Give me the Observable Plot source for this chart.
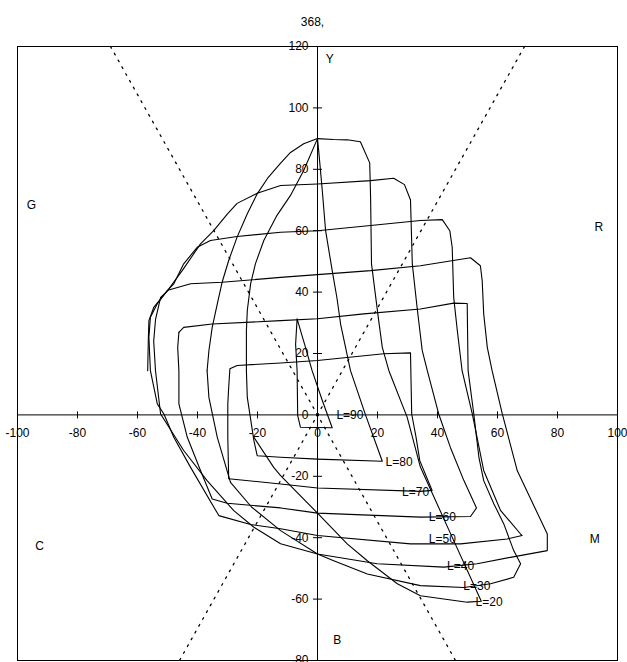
<!DOCTYPE html>
<html>
<head>
<meta charset="utf-8">
<script src="https://cdn.jsdelivr.net/npm/d3@7"></script>
<script src="https://cdn.jsdelivr.net/npm/@observablehq/plot@0.6"></script>
<style>
  html, body { margin: 0; padding: 0; background: #fff; }
  #title { height: 36px; width: 627px; font: 12px "Liberation Sans", Arial, sans-serif; text-align: center; line-height: 12px; box-sizing: border-box; }
  #title span { position: relative; left: -1px; top: 16px; }
  #chart svg { display: block; }
</style>
</head>
<body>
<div id="title"><span>368,</span></div>
<div id="chart"></div>
<script>
// axis ticks and labels
const xTickMarks = [-80, -60, -40, -20, 20, 40, 60, 80];
const xTickLabels = [-100, -80, -60, -40, -20, 0, 20, 40, 60, 80, 100];
const yTickMarks = [-60, -40, -20, 20, 40, 60, 80, 100];
const yTickLabels = [-80, -60, -40, -20, 0, 20, 40, 60, 80, 100, 120];

// dotted reference lines (a*, b*)
const dottedA = [[-69, 120], [46, -80]];
const dottedB = [[69, 120], [-46, -80]];

// corner letters
const letterNames = ["Y", "G", "R", "C", "M", "B"];
const letterA = [4.1, -95.4, 93.8, -92.6, 92.4, 6.6];
const letterB = [116, 68.2, 61.3, -42.6, -40.6, -73.5];

// series labels
const seriesNames = ["L=90", "L=80", "L=70", "L=60", "L=50", "L=40", "L=30", "L=20"];
const labelA = [6.3, 22.7, 28.2, 37.1, 37.1, 43.2, 48.6, 52.7];
const labelB = [-0.2, -15.5, -25.2, -33.3, -40.6, -49.4, -55.9, -61];

// origin point
const origin = [[0, 0]];

// curves (a*, b*)
const L90 = [[-6.8,31.3],[-7.3,23],[-6.8,14.4],[-6.6,-0.2],[-5.7,-4],[4.9,-4.2],[1.6,4.7],[-1.8,14.4],[-4,22],[-6.8,31.3]];
const L80 = [[0,90],[0.4,86],[1.6,73],[2.7,60],[4.9,47],[6.5,38],[7.7,29.6],[11,14.4],[16,0],[21.6,-15.1],[0,-14.4],[-12.3,-13.8],[-20.1,-13.3],[-21.2,-8.4],[-23.4,5.7],[-23.7,14.4],[-23.7,27.5],[-23.4,34],[-22.3,42.7],[-20.7,49.2],[-17.9,56.8],[-13.5,65],[-9,71.5],[-4.6,79.6],[0,90]];
const L70 = [[-29.2,15],[-26.8,16.1],[-12.3,16.9],[0,17.7],[22.1,19.9],[31,20.2],[31.2,10],[31.4,0.3],[32.8,-7],[34.1,-14.9],[38.2,-24.6],[34.3,-24.9],[0,-23.8],[-12.3,-22.5],[-29.6,-20.8],[-29.9,-7.3],[-29.9,3.6],[-29.6,9],[-29.2,15]];
const L60 = [[-56.6,14.4],[-56.4,24.2],[-56.2,30.7],[-54.6,35],[-49.6,41],[-45.1,47],[-39,55.7],[-34.6,60],[-30,65.5],[-26.8,68.9],[-20.1,72.2],[-12.3,74.7],[0,75.2],[17.7,76.3],[25.4,77.1],[29,75],[31,70],[31.6,49.2],[33.2,35],[34.9,21],[36.6,14.4],[40.4,0.3],[44.3,-10.6],[48.8,-21.4],[53,-30.3],[51,-33.1],[34.3,-33.3],[0,-32],[-12.3,-30.3],[-30.1,-28.8],[-35.1,-27.4],[-39,-18.1],[-43.4,-7.3],[-46.2,3.6],[-46.2,14.4],[-46.6,22],[-46.2,26.9]];
const L50 = [[-56.2,25.3],[-55.7,31.8],[-53.4,36.2],[-50.1,40.5],[-47.9,42.7],[-44.6,49.2],[-40.1,54.6],[-35.7,56.8],[-26.8,58.1],[-12.3,59.5],[0,60],[17.7,61.7],[34.3,63.3],[41.6,63.6],[44.1,60],[44.9,54.6],[45.4,38.3],[46.6,27.5],[48.2,14.4],[51.6,0.3],[55.4,-18.1],[61,-31.1],[67.7,-38.8],[68.2,-39.3],[63.2,-40.4],[47.7,-42],[31,-42],[0,-39.3],[-12.3,-37.1],[-22.3,-35.7],[-32.9,-32.8],[-42.3,-17.1],[-47.9,-7.3],[-51.2,0.3],[-53.4,3.6],[-55.7,14.4],[-56.2,25.3]];
const L40 = [[-49.6,40.7],[-42.3,42.7],[-31.8,43.2],[-12.3,44.8],[0,45.7],[17.7,47],[34.3,48.6],[51,51.2],[54.3,48.6],[54.9,43.7],[55.4,32.9],[56.6,22],[58.2,14.4],[61.6,0.3],[66.6,-18.2],[76.6,-38.8],[76.6,-44.2],[64.3,-46.4],[53.2,-48.5],[42.1,-49.6],[19.9,-48.5],[0,-45.3],[-12.3,-42],[-21.2,-36.6],[-27.9,-31.2],[-36.8,-21.4],[-44.6,-11.6],[-52.3,0.3],[-54,14.4],[-54.6,24],[-54,31],[-52.3,38.3],[-49.6,40.7]];
const L30 = [[-46.2,26.9],[-44.6,28.5],[-35.1,29.6],[-12.3,30.7],[0,31.3],[15.4,32.9],[34.3,34.5],[45.4,36.4],[49.9,36.3],[50.2,14.4],[52.1,0.3],[53.8,-13.8],[55.4,-21.4],[58.8,-29],[62.1,-35.5],[65.4,-44.2],[67.7,-48.5],[65.4,-52.9],[57.7,-55],[48.8,-56.2],[34.3,-55.6],[16.6,-51.8],[5.4,-47.5],[0,-45.3],[-12.3,-37.7],[-22,-30],[-29,-22],[-33.4,-7.3],[-36.2,5.7],[-36.8,14.4]];
const L20 = [[0,90],[5.4,89.7],[9.9,89.6],[14.3,89],[17.4,82.1],[17.7,70.9],[18,49.2],[20.4,30.7],[21.6,22],[23.8,14.4],[29.9,-0.8],[34.3,-17],[44.5,-39],[54.6,-60.7],[49.9,-61],[34.3,-58.9],[26.6,-55],[16.6,-47.5],[9.9,-42],[0,-32],[-12.3,-19.8],[-14.6,-17.1],[-21.2,-7.3]];
const innerArc = [[-36.8,14.4],[-36.2,20.9],[-35.1,28.5],[-33.4,36.2],[-31.8,43.2],[-29.6,50.3],[-26.8,57.9],[-23.4,65.5],[-20.1,72],[-16.4,77.4],[-12.3,82],[-9,85.5],[-4.6,88.3],[0,90]];

const curves = [L90, L80, L70, L60, L50, L40, L30, L20, innerArc];
const rows = curves.flatMap((pts, k) => pts.map(([a, b]) => ({a, b, k})));

const font = "'Liberation Sans', Arial, Helvetica, sans-serif";

const chart = Plot.plot({
  width: 627,
  height: 626,
  marginTop: 10,
  marginBottom: 2,
  marginLeft: 17,
  marginRight: 10,
  x: {domain: [-100, 100], axis: null},
  y: {domain: [-80, 120], axis: null},
  style: {fontFamily: font, fontSize: "12px", background: "white", color: "black"},
  marks: [
    Plot.frame({stroke: "black", strokeWidth: 1}),
    Plot.ruleY([0], {stroke: "black", strokeWidth: 1}),
    Plot.ruleX([0], {stroke: "black", strokeWidth: 1}),
    Plot.ruleX(xTickMarks, {x: d => d, y1: 0, y2: 0, insetTop: -3, insetBottom: -4, stroke: "black"}),
    Plot.ruleY(yTickMarks, {y: d => d, x1: 0, x2: 0, insetLeft: -4, insetRight: -5, stroke: "black"}),
    Plot.text(xTickLabels, {x: d => d, y: 0, dy: 18, text: d => String(d), fontSize: 12, fill: "black"}),
    Plot.text(yTickLabels, {x: 0, y: d => d, dx: -9, text: d => String(d), textAnchor: "end", fontSize: 12, fill: "black"}),
    Plot.line(dottedA, {x: d => d[0], y: d => d[1], stroke: "black", strokeWidth: 1.3, strokeDasharray: "1.8,6"}),
    Plot.line(dottedB, {x: d => d[0], y: d => d[1], stroke: "black", strokeWidth: 1.3, strokeDasharray: "1.8,6"}),
    Plot.line(rows, {x: "a", y: "b", z: "k", stroke: "black", strokeWidth: 1.1, curve: "linear"}),
    Plot.dot(origin, {x: d => d[0], y: d => d[1], r: 1.6, fill: "black"}),
    Plot.text(letterNames, {x: (d, i) => letterA[i], y: (d, i) => letterB[i], text: d => d, fontSize: 12, fill: "black"}),
    Plot.text(seriesNames, {x: (d, i) => labelA[i], y: (d, i) => labelB[i], text: d => d, textAnchor: "start", fontSize: 12, fill: "black"})
  ]
});
document.getElementById("chart").appendChild(chart);
</script>
</body>
</html>
